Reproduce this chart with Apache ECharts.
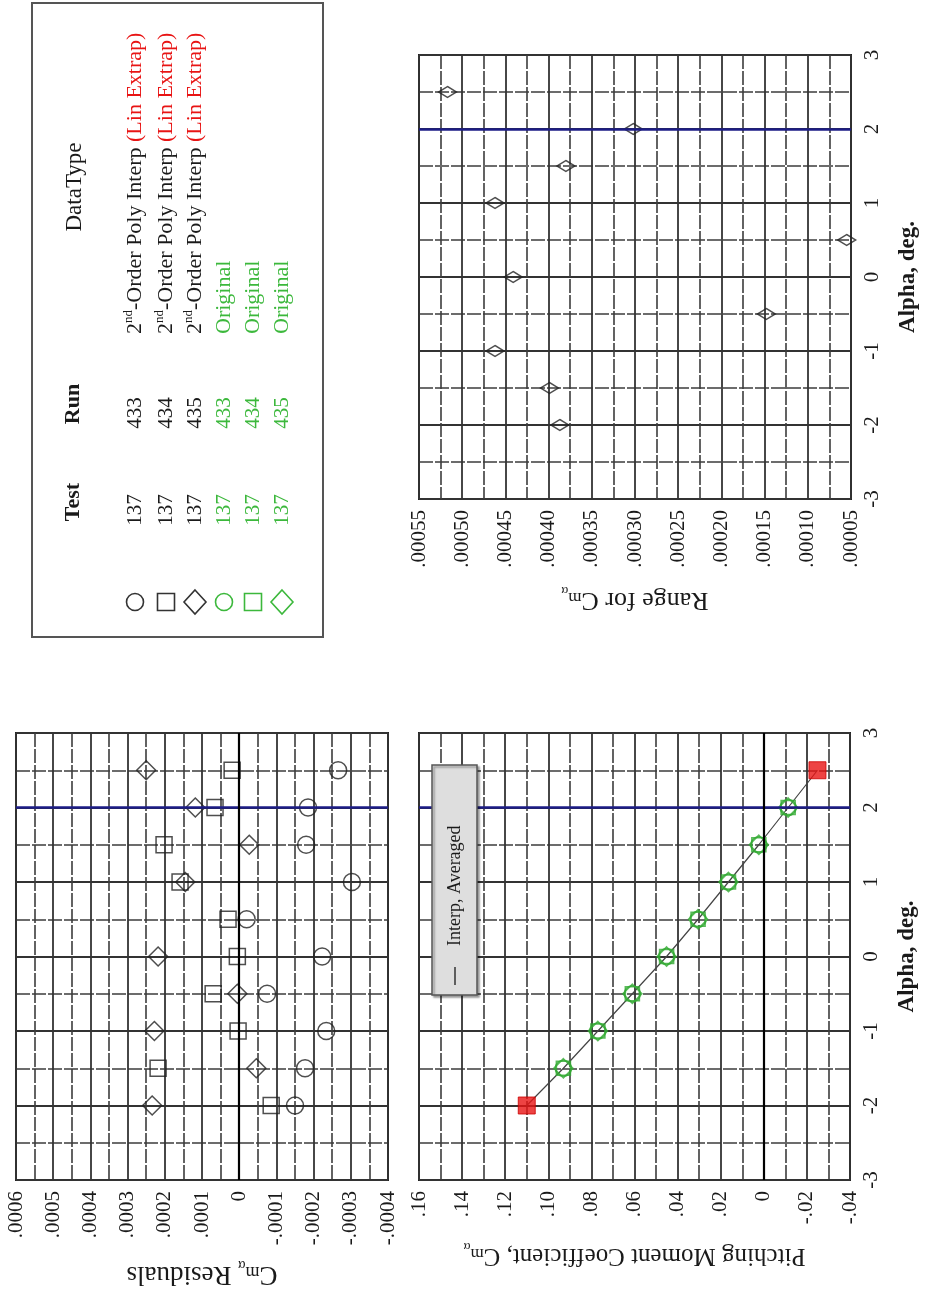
<!DOCTYPE html>
<html>
<head>
<meta charset="utf-8">
<script src="https://cdn.jsdelivr.net/npm/echarts@6/dist/echarts.min.js"></script>
<style>
  html, body { margin: 0; padding: 0; background: #fff; }
  #chart { width: 935px; height: 1296px; }
</style>
</head>
<body>
<div id="chart"></div>
<script>
// ---- data -------------------------------------------------------------
// Angle of attack, deg
const alphaPoints = [-2, -1.5, -1, -0.5, 0, 0.5, 1, 1.5, 2, 2.5];
// Cm_alpha residuals of each run about the 2nd-order fit (null = no point)
const residRun433 = [-0.000150, -0.000177, -0.000234, -0.000075, -0.000223, -0.000020, -0.000303, -0.000180, -0.000185, -0.000266];
const residRun434 = [-0.000086, 0.000218, 0.000003, 0.000070, 0.000005, 0.000030, 0.000159, 0.000202, 0.000065, 0.000019];
const residRun435 = [0.000234, -0.000046, 0.000228, 0.000005, 0.000218, null, 0.000145, -0.000027, 0.000118, 0.000250];
// Spread (max - min) of the residuals at each alpha
const rangeCm = [0.000387, 0.000399, 0.000462, 0.000148, 0.000441, 0.000055, 0.000462, 0.000380, 0.000302, 0.000517];
// Interpolated, averaged pitching moment coefficient
const cmAveraged = [0.1100, 0.0930, 0.0770, 0.0610, 0.0451, 0.0305, 0.0164, 0.0023, -0.0113, -0.0249];
// Original data points and the linearly extrapolated end points
const alphaOriginal = [-1.5, -1, -0.5, 0, 0.5, 1, 1.5, 2];
const cmOriginal = [0.0930, 0.0770, 0.0610, 0.0451, 0.0305, 0.0164, 0.0023, -0.0113];
const alphaExtrap = [-2, 2.5];
const cmExtrap = [0.1100, -0.0249];
// Legend table
const legendTest = ['137', '137', '137', '137', '137', '137'];
const legendRun = ['433', '434', '435', '433', '434', '435'];
const legendType = [
  '2nd-Order Poly Interp (Lin Extrap)',
  '2nd-Order Poly Interp (Lin Extrap)',
  '2nd-Order Poly Interp (Lin Extrap)',
  'Original', 'Original', 'Original'
];
const legendHeaders = ['Test', 'Run', 'DataType'];
const alphaName = 'Alpha, deg.';
const boxLegendText = 'Interp, Averaged';

// ---- styling ----------------------------------------------------------
const SERIF = '"Liberation Serif", "Times New Roman", serif';
const GRID_LINE = '#333';
const MINOR_LINE = '#3c3c3c';
const NAVY = '#1c1c86';
const GREEN = '#33aa33';
const LEGEND_GREEN = '#3cb83c';
const RED = '#e81414';
const INK = '#1a1a1a';

function fmt(v, d) {
  if (Math.abs(v) < 1e-12) return '0';
  return v.toFixed(d).replace(/^(-?)0\./, '$1.');
}

// rich-text pieces for the C_m_alpha symbol
const cmRich = (size) => ({
  c: { fontFamily: SERIF, fontSize: size, color: INK, lineHeight: size + 6 },
  m: { fontFamily: SERIF, fontSize: Math.round(size * 0.66), color: INK, verticalAlign: 'bottom', lineHeight: 14, padding: [0, 0, 5, 0] },
  a: { fontFamily: SERIF, fontSize: Math.round(size * 0.5), color: INK, verticalAlign: 'bottom', lineHeight: 10 }
});

const majorLine = { show: true, lineStyle: { color: GRID_LINE, width: 1.8 } };
const minorLine = { show: true, lineStyle: { color: MINOR_LINE, width: 1.6, type: [14, 2] } };

// value axis drawn across the chart (values grow to the left)
function cAxis(gridIndex, min, max, interval, decimals, name, nameGap, nameSize) {
  return {
    type: 'value', gridIndex, min, max, interval, inverse: true, position: 'bottom',
    axisLine: { show: false }, axisTick: { show: false },
    axisLabel: {
      rotate: 90, margin: 11, color: INK, fontFamily: SERIF, fontSize: 21,
      showMinLabel: true, showMaxLabel: true,
      formatter: v => fmt(v, decimals)
    },
    splitLine: majorLine,
    minorTick: { show: false, splitNumber: 2 },
    minorSplitLine: minorLine,
    name, nameLocation: 'middle', nameGap, nameRotate: 180,
    nameTextStyle: { fontFamily: SERIF, fontSize: nameSize, color: INK, rich: cmRich(nameSize) }
  };
}

// alpha axis running upward, labels on the right
function alphaAxis(gridIndex, showLabels) {
  return {
    type: 'value', gridIndex, min: -3, max: 3, interval: 1, position: 'right',
    axisLine: { show: false }, axisTick: { show: false },
    axisLabel: {
      show: showLabels, rotate: 90, margin: 11, color: INK, fontFamily: SERIF, fontSize: 21,
      showMinLabel: true, showMaxLabel: true
    },
    splitLine: majorLine,
    minorTick: { show: false, splitNumber: 2 },
    minorSplitLine: minorLine,
    name: showLabels ? alphaName : '', nameLocation: 'middle', nameRotate: 90, nameGap: 46,
    nameTextStyle: { fontFamily: SERIF, fontSize: 23, fontWeight: 'bold', color: INK }
  };
}

const gridBox = { show: true, borderColor: '#222', borderWidth: 2, backgroundColor: '#fff' };

const pairs = (xs, ys) => xs.map((x, i) => [x, ys[i]]).filter(p => p[0] !== null);

const hollow = (color, w) => ({ color: 'rgba(0,0,0,0)', borderColor: color, borderWidth: w });

const refLines = (withZero) => ({
  silent: true, symbol: 'none', animation: false,
  label: { show: false },
  data: [
    { yAxis: 2, lineStyle: { color: NAVY, width: 2.5, type: 'solid' } }
  ].concat(withZero ? [{ xAxis: 0, lineStyle: { color: '#000', width: 2.2, type: 'solid' } }] : [])
});

const series = [
  // residuals
  { type: 'scatter', xAxisIndex: 0, yAxisIndex: 0, symbol: 'circle', symbolSize: 17,
    itemStyle: hollow('#222', 1.5), data: pairs(residRun433, alphaPoints), markLine: refLines(true), z: 3 },
  { type: 'scatter', xAxisIndex: 0, yAxisIndex: 0, symbol: 'rect', symbolSize: 16,
    itemStyle: hollow('#222', 1.5), data: pairs(residRun434, alphaPoints), z: 3 },
  { type: 'scatter', xAxisIndex: 0, yAxisIndex: 0, symbol: 'diamond', symbolSize: [19, 19],
    itemStyle: hollow('#222', 1.5), data: pairs(residRun435, alphaPoints), z: 3 },

  // pitching moment
  { type: 'line', xAxisIndex: 1, yAxisIndex: 1, symbol: 'none', silent: true,
    lineStyle: { color: '#444', width: 1.2 }, data: pairs(cmAveraged, alphaPoints),
    markLine: refLines(true), z: 3 },
  { type: 'scatter', xAxisIndex: 1, yAxisIndex: 1, symbol: 'circle', symbolSize: 16,
    itemStyle: hollow(GREEN, 1.6), data: pairs(cmOriginal, alphaOriginal), z: 4 },
  { type: 'scatter', xAxisIndex: 1, yAxisIndex: 1, symbol: 'rect', symbolSize: 14,
    itemStyle: hollow(GREEN, 1.6), data: pairs(cmOriginal, alphaOriginal), z: 4 },
  { type: 'scatter', xAxisIndex: 1, yAxisIndex: 1, symbol: 'diamond', symbolSize: [19, 19],
    itemStyle: hollow(GREEN, 1.6), data: pairs(cmOriginal, alphaOriginal), z: 4 },
  { type: 'scatter', xAxisIndex: 1, yAxisIndex: 1, symbol: 'rect', symbolSize: 17,
    itemStyle: { color: RED, borderColor: '#c00', borderWidth: 1 }, data: pairs(cmExtrap, alphaExtrap), z: 5 },

  // range
  { type: 'scatter', xAxisIndex: 2, yAxisIndex: 2, symbol: 'diamond', symbolSize: [18, 11],
    itemStyle: hollow('#222', 1.5), data: pairs(rangeCm, alphaPoints), markLine: refLines(false), z: 3 }
];

// ---- legend table (text reads bottom-to-top) ---------------------------
const ROT = Math.PI / 2;
const rowX = [135, 166, 195, 224, 253, 282];
const symY = 602, testY = 510, runY = 413, typeY = 334;
const graphics = [
  { type: 'rect', shape: { x: 32, y: 3, width: 291, height: 634 },
    style: { fill: '#fff', stroke: '#555', lineWidth: 2 }, z: 1 },
  { type: 'text', x: 73, y: 502, rotation: ROT, z: 2,
    style: { text: legendHeaders[0], fontFamily: SERIF, fontSize: 22, fontWeight: 'bold', fill: INK, align: 'center', verticalAlign: 'middle' } },
  { type: 'text', x: 73, y: 404, rotation: ROT, z: 2,
    style: { text: legendHeaders[1], fontFamily: SERIF, fontSize: 22, fontWeight: 'bold', fill: INK, align: 'center', verticalAlign: 'middle' } },
  { type: 'text', x: 75, y: 187, rotation: ROT, z: 2,
    style: { text: legendHeaders[2], fontFamily: SERIF, fontSize: 23, fill: INK, align: 'center', verticalAlign: 'middle' } }
];
const legendShapes = ['circle', 'rect', 'diamond', 'circle', 'rect', 'diamond'];
rowX.forEach((x, i) => {
  const color = i < 3 ? '#333' : LEGEND_GREEN;
  const textColor = i < 3 ? INK : LEGEND_GREEN;
  const shape = legendShapes[i];
  if (shape === 'circle') {
    graphics.push({ type: 'circle', shape: { cx: x, cy: symY, r: 8.5 }, style: { fill: 'none', stroke: color, lineWidth: 1.6 }, z: 2 });
  } else if (shape === 'rect') {
    graphics.push({ type: 'rect', shape: { x: x - 8.5, y: symY - 8.5, width: 17, height: 17 }, style: { fill: 'none', stroke: color, lineWidth: 1.6 }, z: 2 });
  } else {
    graphics.push({ type: 'polygon', shape: { points: [[x, symY - 12], [x + 11, symY], [x, symY + 12], [x - 11, symY]] }, style: { fill: 'none', stroke: color, lineWidth: 1.6 }, z: 2 });
  }
  graphics.push({ type: 'text', x, y: testY, rotation: ROT, z: 2,
    style: { text: legendTest[i], fontFamily: SERIF, fontSize: 21, fill: textColor, align: 'center', verticalAlign: 'middle' } });
  graphics.push({ type: 'text', x, y: runY, rotation: ROT, z: 2,
    style: { text: legendRun[i], fontFamily: SERIF, fontSize: 21, fill: textColor, align: 'center', verticalAlign: 'middle' } });
  const rich = legendType[i]
    .replace('2nd', '2{sup|nd}')
    .replace('(Lin Extrap)', '{red|(Lin Extrap)}');
  graphics.push({ type: 'text', x, y: typeY, rotation: ROT, z: 2,
    style: {
      text: rich, fontFamily: SERIF, fontSize: 22, fill: textColor, lineHeight: 25,
      align: 'left', verticalAlign: 'middle',
      rich: {
        sup: { fontFamily: SERIF, fontSize: 13, fill: textColor, verticalAlign: 'top', lineHeight: 14 },
        red: { fontFamily: SERIF, fontSize: 22, fill: RED, lineHeight: 25 }
      }
    } });
});

// ---- legend box inside the pitching-moment chart -----------------------
graphics.push(
  { type: 'rect', shape: { x: 432, y: 765, width: 45, height: 230 },
    style: { fill: '#dedede', stroke: '#555', lineWidth: 1.5, shadowColor: 'rgba(0,0,0,0.35)', shadowOffsetX: 2, shadowOffsetY: 2, shadowBlur: 2 }, z: 10 },
  { type: 'line', shape: { x1: 455, y1: 985, x2: 455, y2: 967 }, style: { stroke: '#333', lineWidth: 1.5 }, z: 11 },
  { type: 'text', x: 455, y: 946, rotation: ROT, z: 11,
    style: { text: boxLegendText, fontFamily: SERIF, fontSize: 18, fill: INK, align: 'left', verticalAlign: 'middle' } }
);

const option = {
  backgroundColor: '#fff',
  animation: false,
  grid: [
    Object.assign({ left: 16, top: 733, width: 372, height: 447 }, gridBox),
    Object.assign({ left: 419, top: 733, width: 431, height: 447 }, gridBox),
    Object.assign({ left: 419, top: 55, width: 432, height: 444 }, gridBox)
  ],
  xAxis: [
    cAxis(0, -0.0004, 0.0006, 0.0001, 4, '{c|C}{m|m}{a|α}{c| Residuals}', 78, 27),
    cAxis(1, -0.04, 0.16, 0.02, 2, '{c|Pitching Moment Coefficient, C}{m|m}{a|α}', 60, 25),
    cAxis(2, 0.00005, 0.00055, 0.00005, 5, '{c|Range for C}{m|m}{a|α}', 85, 26)
  ],
  yAxis: [alphaAxis(0, false), alphaAxis(1, true), alphaAxis(2, true)],
  series,
  graphic: { elements: graphics }
};

const chart = echarts.init(document.getElementById('chart'));
chart.setOption(option);
</script>
</body>
</html>
